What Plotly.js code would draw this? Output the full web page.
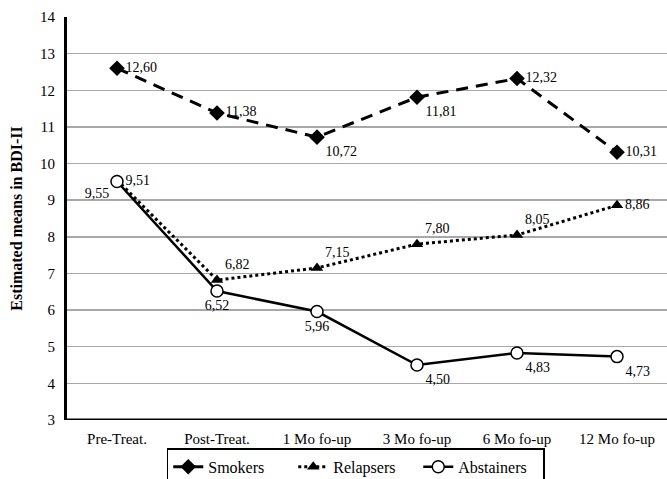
<!DOCTYPE html>
<html><head><meta charset="utf-8">
<script src="https://cdn.plot.ly/plotly-3.0.1.min.js"></script>
<style>html,body{margin:0;padding:0;background:#fff}#chart{width:667px;height:479px}</style>
</head><body><div id="chart"></div>
<script>
const categories = ['Pre-Treat.','Post-Treat.','1 Mo fo-up','3 Mo fo-up','6 Mo fo-up','12 Mo fo-up'];
const smokers = [12.60, 11.38, 10.72, 11.81, 12.32, 10.31];
const relapsers = [9.55, 6.82, 7.15, 7.80, 8.05, 8.86];
const abstainers = [9.51, 6.52, 5.96, 4.50, 4.83, 4.73];
const seriesNames = ['Smokers','Relapsers','Abstainers'];
const yTicks = [3,4,5,6,7,8,9,10,11,12,13,14];

const fmt = v => v.toFixed(2).replace('.', ',');
const font = {family: '"Liberation Serif", "Times New Roman", serif', color: '#000'};
const x = categories.map((c,i)=>i);

const sMarker = {symbol:'diamond', size: 12, color:'#000'};
const rMarker = {symbol:'triangle-up', size: 11, color:'#000'};
const aMarker = {symbol:'circle', size: 12, color:'#fff', line:{color:'#000', width: 1.5}};

const traces = [
  {x, y: smokers, name: seriesNames[0], mode: 'lines+markers+text', showlegend: false,
   line: {color:'#000', width: 3, dash: '12px,8px'}, marker: sMarker,
   text: smokers.map(fmt),
   textposition: ['middle right','middle right','bottom right','bottom right','middle right','middle right'],
   textfont: Object.assign({size: 14}, font), cliponaxis: false},
  {x, y: relapsers, name: seriesNames[1], mode: 'lines+markers+text', showlegend: false,
   line: {color:'#000', width: 3, dash: 'dot'}, marker: rMarker,
   text: relapsers.map(fmt),
   textposition: ['bottom left','top right','top right','top right','top right','middle right'],
   textfont: Object.assign({size: 14}, font), cliponaxis: false},
  {x, y: abstainers, name: seriesNames[2], mode: 'lines+markers+text', showlegend: false,
   line: {color:'#000', width: 2.5}, marker: aMarker,
   text: abstainers.map(fmt),
   textposition: ['middle right','bottom center','bottom center','bottom right','bottom right','bottom right'],
   textfont: Object.assign({size: 14}, font), cliponaxis: false},
  // legend entries (as in the reference legend)
  {x:[null], y:[null], name: seriesNames[0], mode:'lines+markers', line:{color:'#000', width:3}, marker: sMarker},
  {x:[null], y:[null], name: seriesNames[1], mode:'lines+markers', line:{color:'#000', width:3, dash:'dot'}, marker: rMarker},
  {x:[null], y:[null], name: seriesNames[2], mode:'lines+markers', line:{color:'#000', width:2.5}, marker: aMarker}
];

const layout = {
  width: 667, height: 479,
  margin: {l: 67, r: 0, t: 17, b: 59},
  paper_bgcolor: '#fff', plot_bgcolor: '#fff',
  font: Object.assign({size: 14}, font),
  showlegend: true,
  legend: {orientation: 'h', xref: 'container', yref: 'container',
           x: 0.25, xanchor: 'left', y: 0.064, yanchor: 'top',
           bordercolor: '#000', borderwidth: 1.5,
           font: {family: '"Liberation Serif", "Times New Roman", serif', color: '#000', size: 16},
           entrywidth: 80, entrywidthmode: 'pixels', tracegroupgap: 0},
  xaxis: {
    range: [-0.5, 5.5], tickmode: 'array', tickvals: x, ticktext: categories,
    showgrid: false, zeroline: false, showline: false, ticks: '',
    tickfont: Object.assign({size: 15}, font), ticklabelstandoff: 8,
    fixedrange: true, automargin: false
  },
  yaxis: {
    range: [3, 14], tickmode: 'array', tickvals: yTicks, ticktext: yTicks.map(String),
    showgrid: true, gridcolor: '#a8a8a8', gridwidth: 1.5, zeroline: false,
    showline: true, linecolor: '#000', linewidth: 3, ticks: '',
    tickfont: Object.assign({size: 15}, font), ticklabelstandoff: 6,
    title: {text: '<b>Estimated means in BDI-II</b>', font: Object.assign({size: 16}, font), standoff: 14},
    fixedrange: true, automargin: false
  },
  shapes: [{type:'line', xref:'paper', yref:'y', x0:0, x1:1, y0:3, y1:3, line:{color:'#000', width:3}}]
};

Plotly.newPlot('chart', traces, layout, {displayModeBar: false, staticPlot: true});
</script>
</body></html>
